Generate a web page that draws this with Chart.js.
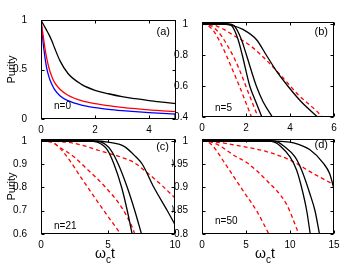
<!DOCTYPE html>
<html>
<head>
<meta charset="utf-8">
<script src="https://cdn.jsdelivr.net/npm/chart.js@4/dist/chart.umd.min.js"></script>
<style>
  body { margin: 0; background: #fff; }
  #wrap { position: relative; width: 362px; height: 272px; }
  canvas { position: absolute; left: 0; top: 0; }
</style>
</head>
<body>
<div id="wrap">
  <canvas id="pa" width="362" height="272"></canvas>
  <canvas id="pb" width="362" height="272"></canvas>
  <canvas id="pc" width="362" height="272"></canvas>
  <canvas id="pd" width="362" height="272"></canvas>
</div>
<script>
// panel (a), n=0
const tA = [0, 0.1, 0.2, 0.3, 0.4, 0.5, 0.7, 1, 1.5, 2, 2.5, 3, 3.5, 4, 4.5, 5];
const aBlack = [1, 0.95, 0.9, 0.85, 0.79, 0.72, 0.59, 0.46, 0.35, 0.29, 0.255, 0.226, 0.205, 0.186, 0.17, 0.155];
const aRed = [1, 0.8, 0.63, 0.51, 0.43, 0.37, 0.3, 0.24, 0.185, 0.155, 0.135, 0.118, 0.104, 0.092, 0.083, 0.075];
const aBlue = [1, 0.72, 0.53, 0.42, 0.35, 0.3, 0.235, 0.185, 0.14, 0.115, 0.098, 0.085, 0.074, 0.065, 0.057, 0.05];

// panel (b), n=5
const tB1 = [0, 1.1, 1.34, 1.64, 1.83, 2.17, 2.44, 2.72];
const bBlack1 = [1, 1, 0.99, 0.9, 0.8, 0.6, 0.5, 0.4];
const tB2 = [0, 1.2, 1.45, 1.79, 2.02, 2.47, 2.77, 3.2];
const bBlack2 = [1, 1, 0.99, 0.9, 0.8, 0.6, 0.5, 0.4];
const tB3 = [0, 1.0, 1.4, 1.86, 2.47, 2.92, 3.37, 3.9, 4.5, 5.25];
const bBlack3 = [1, 1, 0.99, 0.965, 0.9, 0.8, 0.7, 0.6, 0.5, 0.4];
const tBr1 = [0, 0.2, 0.5, 0.8, 1.1, 1.4, 1.7, 2.0, 2.25];
const bRed1 = [1, 0.995, 0.96, 0.89, 0.8, 0.7, 0.6, 0.49, 0.4];
const tBr2 = [0, 0.3, 0.6, 0.9, 1.2, 1.5, 1.8, 2.1, 2.35, 2.55];
const bRed2 = [1, 0.995, 0.97, 0.92, 0.85, 0.77, 0.67, 0.56, 0.47, 0.4];
const tBr3 = [0, 0.3, 0.7, 1.0, 1.4, 2.2, 2.9, 3.7, 4.4, 5.2, 5.47];
const bRed3 = [1, 1, 0.985, 0.965, 0.93, 0.86, 0.77, 0.65, 0.54, 0.44, 0.4];

// panel (c), n=21
const tC1 = [0, 3.5, 4.2, 4.95, 5.45, 6.02, 6.44, 6.8];
const cBlack1 = [1, 1, 0.995, 0.962, 0.9, 0.8, 0.7, 0.6];
const tC2 = [0, 3.8, 4.5, 5.2, 5.77, 6.44, 7.0, 7.5];
const cBlack2 = [1, 1, 0.995, 0.962, 0.9, 0.8, 0.7, 0.6];
const tC3 = [0, 4, 5, 6.2, 7.06, 7.56, 8.43, 9.43, 10];
const cBlack3 = [1, 1, 0.995, 0.977, 0.933, 0.9, 0.8, 0.7, 0.64];
const tCr1 = [0, 0.5, 1, 1.84, 3.08, 4.33, 5.57, 5.95];
const cRed1 = [1, 0.998, 0.99, 0.94, 0.835, 0.73, 0.63, 0.6];
const tCr2 = [0, 0.8, 1.34, 2.5, 3.33, 4.83, 6.07, 6.8, 7.0];
const cRed2 = [1, 0.995, 0.975, 0.93, 0.885, 0.8, 0.71, 0.63, 0.6];
const tCr3 = [0, 1.2, 2.5, 4.45, 6, 6.95, 8, 9, 10];
const cRed3 = [1, 0.998, 0.99, 0.957, 0.93, 0.907, 0.86, 0.81, 0.755];

// panel (d), n=50
const tD1 = [0, 7.5, 8.3, 8.86, 10, 10.76, 11.5, 11.9, 12.3];
const dBlack1 = [1, 1, 0.997, 0.99, 0.966, 0.937, 0.886, 0.85, 0.8];
const tD2 = [0, 7.8, 8.7, 9.24, 10.57, 11.33, 12.27, 12.84, 13.35];
const dBlack2 = [1, 1, 0.997, 0.99, 0.966, 0.937, 0.886, 0.85, 0.8];
const tD3 = [0, 8, 9, 10.4, 12.27, 13.8, 14.5, 15];
const dBlack3 = [1, 1, 0.999, 0.996, 0.981, 0.952, 0.93, 0.897];
const tDr1 = [0, 0.5, 1.2, 2.5, 4.7, 6.2, 7.6];
const dRed1 = [1, 0.999, 0.99, 0.955, 0.892, 0.85, 0.8];
const tDr2 = [0, 1, 2, 3.56, 5.2, 7.35, 9.6, 11.0];
const dRed2 = [1, 0.998, 0.99, 0.97, 0.952, 0.915, 0.864, 0.8];
const tDr3 = [0, 1.5, 4.7, 7.35, 10, 12.65, 15];
const dRed3 = [1, 0.998, 0.988, 0.977, 0.959, 0.93, 0.906];

// tick labels
const xTicksA = [0, 2, 4], yTicksA = [0, 0.5, 1];
const xTicksB = [0, 2, 4, 6], yTicksB = [0.4, 0.6, 0.8, 1];
const xTicksC = [0, 5, 10], yTicksC = [0.6, 0.7, 0.8, 0.9, 1];
const xTicksD = [0, 5, 10, 15], yTicksD = [0.8, 0.85, 0.9, 0.95, 1];

const FONT = "'Liberation Sans', Arial, sans-serif";
const YW = 30, XH = 30; // fixed axis box sizes

const pts = (t, p) => t.map((v, i) => ({ x: v, y: p[i] }));
const solid = (t, p, c) => ({ data: pts(t, p), borderColor: c || '#000', borderWidth: 1.3 });
const dashed = (t, p) => ({ data: pts(t, p), borderColor: '#ff0000', borderWidth: 1.3, borderDash: [4, 3] });

// frame, inward ticks and annotations
const framePlugin = {
  id: 'frame',
  afterDraw(chart, args, o) {
    const { ctx, chartArea: a } = chart;
    const xs = chart.scales.x, ys = chart.scales.y;
    ctx.save();
    ctx.strokeStyle = '#000';
    ctx.lineWidth = 1;
    const L = Math.round(a.left) + 0.5, R = Math.round(a.right) - 0.5;
    const T = Math.round(a.top) + 0.5, B = Math.round(a.bottom) - 0.5;
    ctx.strokeRect(L, T, R - L, B - T);
    ctx.beginPath();
    xs.ticks.forEach(t => {
      const p = Math.round(xs.getPixelForValue(t.value)) + 0.5;
      ctx.moveTo(p, B); ctx.lineTo(p, B - 3);
      ctx.moveTo(p, T); ctx.lineTo(p, T + 3);
    });
    ys.ticks.forEach(t => {
      const p = Math.round(ys.getPixelForValue(t.value)) + 0.5;
      ctx.moveTo(L, p); ctx.lineTo(L + 3, p);
      ctx.moveTo(R, p); ctx.lineTo(R - 3, p);
    });
    ctx.stroke();

    ctx.fillStyle = '#000';
    ctx.textBaseline = 'middle';
    ctx.font = '11px ' + FONT;
    ctx.textAlign = 'right';
    ctx.fillText(o.tag, a.right - 6, a.top + o.tagDy);
    ctx.font = '10px ' + FONT;
    ctx.textAlign = 'left';
    ctx.fillText(o.note, a.left + 13, a.bottom - o.noteDy);

    if (o.yTitle) {
      ctx.save();
      ctx.translate(12, (a.top + a.bottom) / 2);
      ctx.rotate(-Math.PI / 2);
      ctx.textAlign = 'center';
      ctx.font = '11px ' + FONT;
      ctx.fillText('Purity', 0, 0);
      ctx.restore();
    }
    if (o.xTitle) {
      ctx.textBaseline = 'alphabetic';
      ctx.textAlign = 'left';
      ctx.font = '14px ' + FONT;
      const w1 = ctx.measureText('ω').width;
      const w3 = ctx.measureText('t').width;
      ctx.font = '10px ' + FONT;
      const w2 = ctx.measureText('c').width;
      const x0 = (a.left + a.right) / 2 - 3 - (w1 + w2 + w3) / 2;
      ctx.font = '14px ' + FONT;
      ctx.fillText('ω', x0, 258);
      ctx.font = '10px ' + FONT;
      ctx.fillText('c', x0 + w1, 263);
      ctx.font = '14px ' + FONT;
      ctx.fillText('t', x0 + w1 + w2, 258);
    }
    ctx.restore();
  }
};

const fmt = v => String(+v.toFixed(2));

function makePanel(id, datasets, area, xr, yr, xt, yt, frame) {
  const pad = { left: area.l - YW, top: area.t, right: 362 - area.r, bottom: 272 - area.b - XH };
  return new Chart(document.getElementById(id), {
    type: 'line',
    data: { datasets },
    options: {
      responsive: false,
      animation: false,
      layout: { padding: pad },
      plugins: { legend: { display: false }, tooltip: { enabled: false }, frame },
      elements: {
        point: { radius: 0 },
        line: { cubicInterpolationMode: 'monotone', fill: false }
      },
      scales: {
        x: {
          type: 'linear', min: xr[0], max: xr[1],
          afterFit: s => { s.height = XH; },
          afterBuildTicks: s => { s.ticks = xt.map(v => ({ value: v })); },
          grid: { display: false }, border: { display: false },
          ticks: { color: '#000', font: { family: FONT, size: 10 }, padding: -3, autoSkip: false, maxRotation: 0, callback: fmt }
        },
        y: {
          type: 'linear', min: yr[0], max: yr[1],
          afterFit: s => { s.width = YW; },
          afterBuildTicks: s => { s.ticks = yt.map(v => ({ value: v })); },
          grid: { display: false }, border: { display: false },
          ticks: { color: '#000', font: { family: FONT, size: 10 }, padding: 6, autoSkip: false, callback: fmt }
        }
      }
    },
    plugins: [framePlugin]
  });
}

makePanel('pa',
  [solid(tA, aBlack), solid(tA, aRed, '#ff0000'), solid(tA, aBlue, '#0000ff')],
  { l: 41, t: 20, r: 176, b: 119 }, [0, 5], [0, 1], xTicksA, yTicksA,
  { tag: '(a)', tagDy: 12, note: 'n=0', noteDy: 13, yTitle: true, xTitle: false });

makePanel('pb',
  [solid(tB1, bBlack1), solid(tB2, bBlack2), solid(tB3, bBlack3),
   dashed(tBr1, bRed1), dashed(tBr2, bRed2), dashed(tBr3, bRed3)],
  { l: 202, t: 22, r: 334, b: 117 }, [0, 6], [0.4, 1.013], xTicksB, yTicksB,
  { tag: '(b)', tagDy: 10, note: 'n=5', noteDy: 9, yTitle: false, xTitle: false });

makePanel('pc',
  [solid(tC1, cBlack1), solid(tC2, cBlack2), solid(tC3, cBlack3),
   dashed(tCr1, cRed1), dashed(tCr2, cRed2), dashed(tCr3, cRed3)],
  { l: 41, t: 139, r: 175, b: 234 }, [0, 10], [0.6, 1.0086], xTicksC, yTicksC,
  { tag: '(c)', tagDy: 8, note: 'n=21', noteDy: 8, yTitle: true, xTitle: true });

makePanel('pd',
  [solid(tD1, dBlack1), solid(tD2, dBlack2), solid(tD3, dBlack3),
   dashed(tDr1, dRed1), dashed(tDr2, dRed2), dashed(tDr3, dRed3)],
  { l: 202, t: 139, r: 334, b: 234 }, [0, 15], [0.8, 1.0043], xTicksD, yTicksD,
  { tag: '(d)', tagDy: 6, note: 'n=50', noteDy: 13, yTitle: false, xTitle: true });
</script>
</body>
</html>
